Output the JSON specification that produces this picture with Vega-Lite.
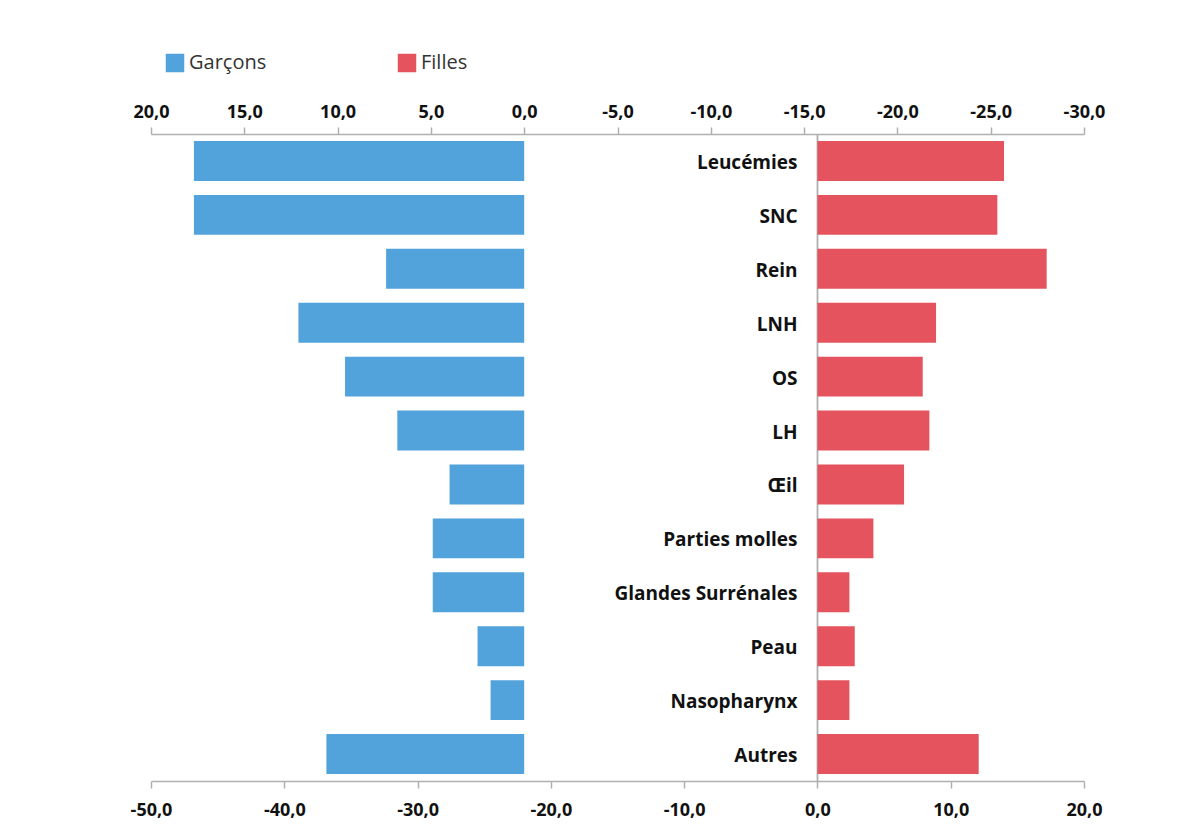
{
  "$schema": "https://vega.github.io/schema/vega-lite/v6.json",
  "width": 933,
  "height": 647,
  "autosize": {"type": "none"},
  "padding": {"left": 151, "top": 134, "right": 113, "bottom": 48},
  "background": "white",
  "config": {
    "font": "Open Sans",
    "view": {"stroke": null},
    "axis": {
      "grid": false,
      "domainColor": "#B0B0B0",
      "domainWidth": 1.5,
      "tickColor": "#B0B0B0",
      "tickWidth": 1.5,
      "tickSize": 7,
      "labelFont": "Open Sans",
      "labelFontWeight": "bold",
      "labelFontSize": 18,
      "labelColor": "#111111",
      "labelFlush": false,
      "labelOverlap": false,
      "title": null
    }
  },
  "data": {
    "values": [
      {"cat": "Leucémies", "sexe": "Garçons", "v": 17.7},
      {"cat": "SNC", "sexe": "Garçons", "v": 17.7},
      {"cat": "Rein", "sexe": "Garçons", "v": 7.4},
      {"cat": "LNH", "sexe": "Garçons", "v": 12.1},
      {"cat": "OS", "sexe": "Garçons", "v": 9.6},
      {"cat": "LH", "sexe": "Garçons", "v": 6.8},
      {"cat": "Œil", "sexe": "Garçons", "v": 4.0},
      {"cat": "Parties molles", "sexe": "Garçons", "v": 4.9},
      {"cat": "Glandes Surrénales", "sexe": "Garçons", "v": 4.9},
      {"cat": "Peau", "sexe": "Garçons", "v": 2.5},
      {"cat": "Nasopharynx", "sexe": "Garçons", "v": 1.8},
      {"cat": "Autres", "sexe": "Garçons", "v": 10.6},
      {"cat": "Leucémies", "sexe": "Filles", "v": 14.0},
      {"cat": "SNC", "sexe": "Filles", "v": 13.5},
      {"cat": "Rein", "sexe": "Filles", "v": 17.2},
      {"cat": "LNH", "sexe": "Filles", "v": 8.9},
      {"cat": "OS", "sexe": "Filles", "v": 7.9},
      {"cat": "LH", "sexe": "Filles", "v": 8.4},
      {"cat": "Œil", "sexe": "Filles", "v": 6.5},
      {"cat": "Parties molles", "sexe": "Filles", "v": 4.2},
      {"cat": "Glandes Surrénales", "sexe": "Filles", "v": 2.4},
      {"cat": "Peau", "sexe": "Filles", "v": 2.8},
      {"cat": "Nasopharynx", "sexe": "Filles", "v": 2.4},
      {"cat": "Autres", "sexe": "Filles", "v": 12.1}
    ]
  },
  "layer": [
    {
      "transform": [{"filter": "datum.sexe === 'Garçons'"}],
      "mark": {"type": "bar"},
      "encoding": {
        "y": {
          "field": "cat",
          "type": "nominal",
          "sort": ["Leucémies", "SNC", "Rein", "LNH", "OS", "LH", "Œil", "Parties molles", "Glandes Surrénales", "Peau", "Nasopharynx", "Autres"],
          "scale": {"paddingInner": 0.26, "paddingOuter": 0.13},
          "axis": {
            "orient": "left",
            "offset": -666,
            "ticks": false,
            "labelPadding": 20,
            "labelOffset": 2,
            "labelLimit": 400,
            "labelFontSize": 19,
            "labelFontWeight": "bold",
            "labelColor": "#111111",
            "domainColor": "#B0B0B0",
            "domainWidth": 1.8
          }
        },
        "x": {
          "field": "v",
          "type": "quantitative",
          "scale": {"domain": [20, -30], "nice": false, "zero": false},
          "axis": {
            "orient": "top",
            "values": [20, 15, 10, 5, 0, -5, -10, -15, -20, -25, -30],
            "labelPadding": 6,
            "labelExpr": "replace(replace(format(datum.value, '.1f'), '.', ','), '\u2212', '-')"
          }
        },
        "x2": {"datum": 0},
        "color": {
          "field": "sexe",
          "type": "nominal",
          "scale": {"domain": ["Garçons", "Filles"], "range": ["#52A2DC", "#E5545E"]},
          "legend": {
            "orient": "none",
            "legendX": 14,
            "legendY": -81,
            "direction": "horizontal",
            "title": null,
            "symbolType": "square",
            "symbolSize": 342,
            "symbolStrokeWidth": 0,
            "symbolOpacity": 1,
            "labelFont": "Open Sans",
            "labelFontSize": 20,
            "labelColor": "#333333",
            "labelOffset": 4,
            "columnPadding": 130
          }
        }
      }
    },
    {
      "transform": [{"filter": "datum.sexe === 'Filles'"}],
      "mark": {"type": "bar"},
      "encoding": {
        "y": {
          "field": "cat",
          "type": "nominal",
          "sort": ["Leucémies", "SNC", "Rein", "LNH", "OS", "LH", "Œil", "Parties molles", "Glandes Surrénales", "Peau", "Nasopharynx", "Autres"],
          "scale": {"paddingInner": 0.26, "paddingOuter": 0.13},
          "axis": {
            "orient": "left",
            "offset": -666,
            "ticks": false,
            "labelPadding": 20,
            "labelOffset": 2,
            "labelLimit": 400,
            "labelFontSize": 19,
            "labelFontWeight": "bold",
            "labelColor": "#111111",
            "domainColor": "#B0B0B0",
            "domainWidth": 1.8
          }
        },
        "x": {
          "field": "v",
          "type": "quantitative",
          "scale": {"domain": [-50, 20], "nice": false, "zero": false},
          "axis": {
            "orient": "bottom",
            "values": [-50, -40, -30, -20, -10, 0, 10, 20],
            "labelPadding": 13,
            "labelExpr": "replace(replace(format(datum.value, '.1f'), '.', ','), '\u2212', '-')"
          }
        },
        "x2": {"datum": 0},
        "color": {
          "field": "sexe",
          "type": "nominal",
          "scale": {"domain": ["Garçons", "Filles"], "range": ["#52A2DC", "#E5545E"]},
          "legend": {
            "orient": "none",
            "legendX": 14,
            "legendY": -81,
            "direction": "horizontal",
            "title": null,
            "symbolType": "square",
            "symbolSize": 342,
            "symbolStrokeWidth": 0,
            "symbolOpacity": 1,
            "labelFont": "Open Sans",
            "labelFontSize": 20,
            "labelColor": "#333333",
            "labelOffset": 4,
            "columnPadding": 130
          }
        }
      }
    }
  ],
  "resolve": {"scale": {"x": "independent"}, "axis": {"x": "independent"}}
}
